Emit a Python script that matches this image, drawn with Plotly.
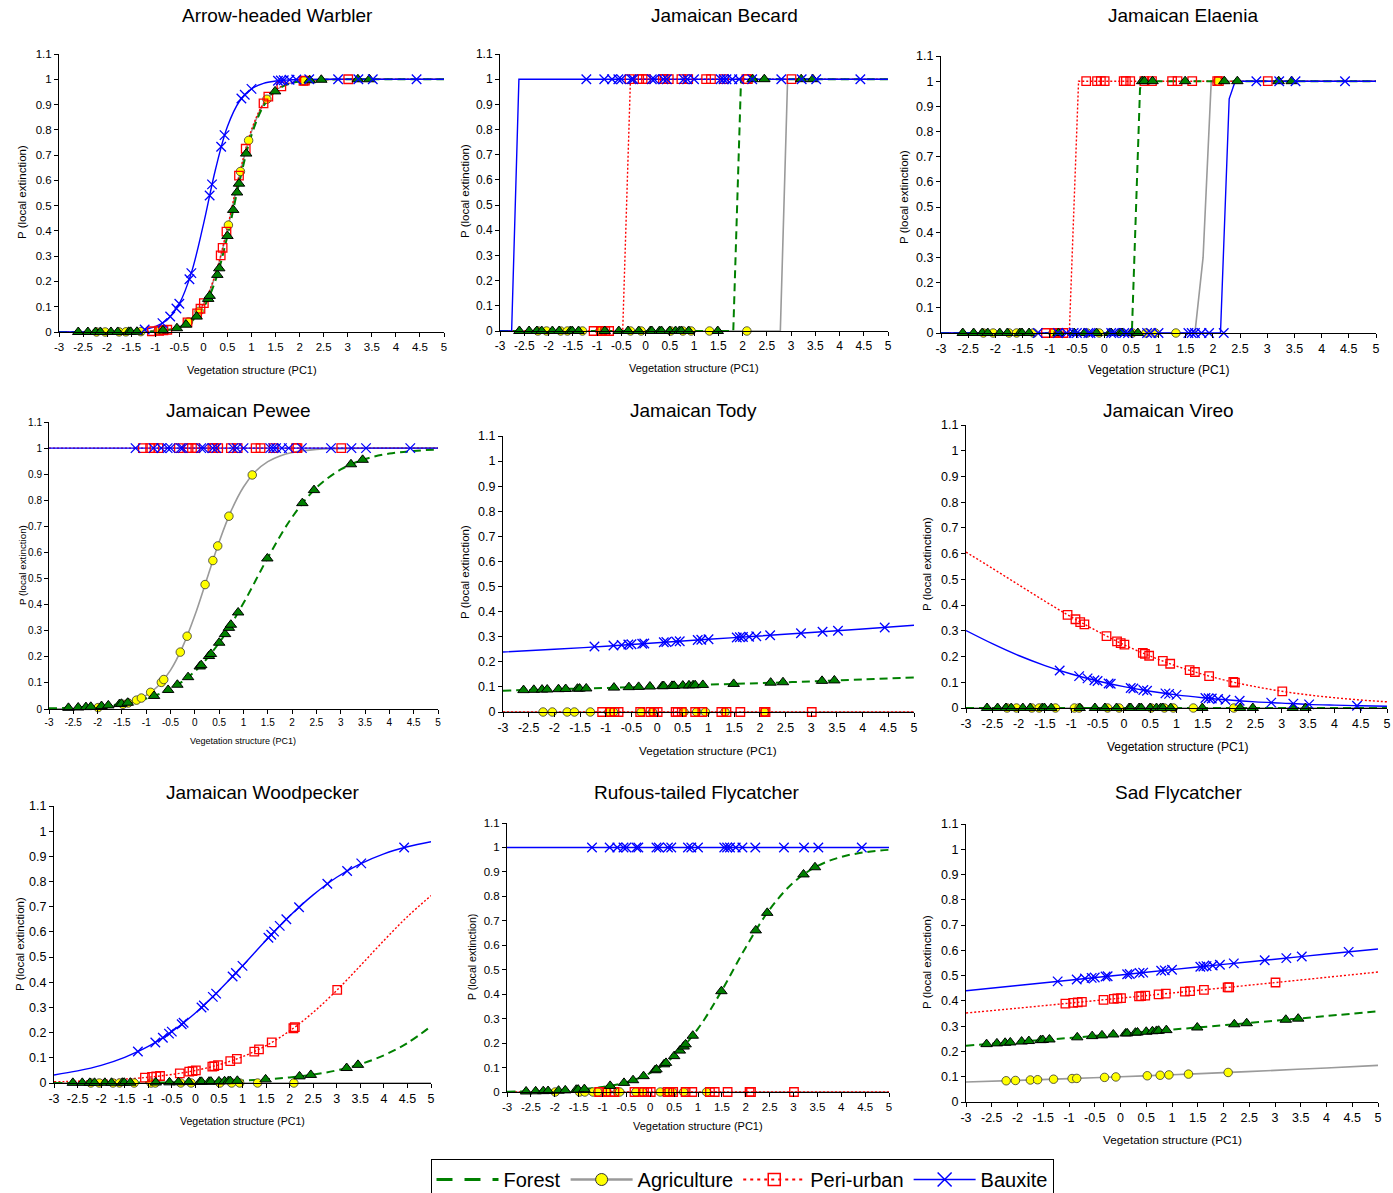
import plotly.graph_objects as go

W, H = 1393, 1193

# ---------------- axis ticks ----------------
X_TICKS = [-3, -2.5, -2, -1.5, -1, -0.5, 0, 0.5, 1, 1.5, 2, 2.5, 3, 3.5, 4, 4.5, 5]
X_TICK_LABELS = ["-3", "-2.5", "-2", "-1.5", "-1", "-0.5", "0", "0.5", "1", "1.5",
                 "2", "2.5", "3", "3.5", "4", "4.5", "5"]
Y_TICKS = [0, 0.1, 0.2, 0.3, 0.4, 0.5, 0.6, 0.7, 0.8, 0.9, 1.0, 1.1]
Y_TICK_LABELS = ["0", "0.1", "0.2", "0.3", "0.4", "0.5", "0.6", "0.7", "0.8", "0.9", "1", "1.1"]

SPECIES = ["Arrow-headed Warbler", "Jamaican Becard", "Jamaican Elaenia",
           "Jamaican Pewee", "Jamaican Tody", "Jamaican Vireo",
           "Jamaican Woodpecker", "Rufous-tailed Flycatcher", "Sad Flycatcher"]
HABITATS = ["Forest", "Agriculture", "Peri-urban", "Bauxite"]

# x positions where fitted curves were read
GRID_HALF = [-3, -2.5, -2, -1.5, -1, -0.5, 0, 0.5, 1, 1.5, 2, 2.5, 3, 3.5, 4, 4.5, 5]
GRID_FINE = [-3, -2.5, -2, -1.5, -1.25, -1, -0.75, -0.5, -0.25, 0, 0.25, 0.5, 0.75,
             1, 1.25, 1.5, 1.75, 2, 2.5, 3, 3.5, 4, 4.5, 5]
GRID_UNIT = [-3, -2, -1, 0, 1, 2, 3, 4, 5]
GRID_ENDS = [-3, 5]

# ---------------- site vegetation scores (PC1) ----------------
FOREST_X = [-2.6, -2.4, -2.24, -2.14, -1.92, -1.78, -1.55, -1.51, -1.38, -0.84, -0.55, -0.36,
            -0.14, 0.10, 0.13, 0.29, 0.33, 0.50, 0.62, 0.70, 0.74, 0.89, 1.49, 2.21, 2.45,
            3.21, 3.45]
AGRI_X = [-2.22, -2.04, -1.75, -1.61, -1.30, -0.94, -0.85, -0.31, -0.09, 0.52, 0.77, 0.94,
          1.32, 2.09]
AGRI_X_B = [-1.99, -1.48, -1.37, -1.20, -1.10, -0.91, -0.69, -0.64, -0.30, -0.16, 0.21,
            0.37, 0.47, 0.70, 1.18]
PERI_X = [-1.07, -0.92, -0.83, -0.75, -0.33, -0.13, -0.06, 0.01, 0.36, 0.40, 0.48, 0.74,
          0.88, 1.25, 1.35, 1.62, 2.08, 2.11, 3.01]
BAUX_X = [-1.22, -0.85, -0.69, -0.56, -0.50, -0.29, -0.25, 0.13, 0.18, 0.37, 0.44, 0.79,
          0.86, 1.00, 1.55, 1.61, 1.67, 1.79, 1.93, 2.20, 2.80, 3.22, 3.52, 4.43]

# ---------------- Arrow-headed Warbler ----------------
WARBLER_FOREST_Y = [0.0, 0.0, 0.0, 0.0001, 0.0001, 0.0002, 0.0005, 0.0005, 0.0009, 0.006,
                    0.015, 0.029, 0.061, 0.131, 0.143, 0.226, 0.252, 0.380, 0.483, 0.552,
                    0.587, 0.706, 0.952, 0.996, 0.998, 1.0, 1.0]
WARBLER_AGRI_Y = [0.0, 0.0001, 0.0003, 0.0005, 0.0014, 0.0047, 0.0064, 0.040, 0.082, 0.423,
                  0.635, 0.758, 0.921, 0.994]
WARBLER_PERI_Y = [0.003, 0.005, 0.007, 0.009, 0.038, 0.074, 0.092, 0.114, 0.303, 0.333,
                  0.397, 0.619, 0.725, 0.905, 0.931, 0.972, 0.994, 0.995, 1.0]
WARBLER_BAUX_Y = [0.010, 0.035, 0.061, 0.093, 0.112, 0.209, 0.233, 0.540, 0.584, 0.733,
                  0.779, 0.924, 0.939, 0.962, 0.994, 0.995, 0.996, 0.998, 0.999, 1.0, 1.0,
                  1.0, 1.0, 1.0]
WARBLER_FOREST_CURVE = [0.0, 0.0, 0.0001, 0.0006, 0.0013, 0.0032, 0.0077, 0.018, 0.042, 0.096,
                        0.203, 0.380, 0.595, 0.779, 0.894, 0.953, 0.980, 0.991, 0.9985, 1.0,
                        1.0, 1.0, 1.0, 1.0]
WARBLER_AGRI_CURVE = [0.0, 0.0, 0.0001, 0.0007, 0.0016, 0.0039, 0.0091, 0.021, 0.049, 0.109,
                      0.224, 0.406, 0.618, 0.793, 0.901, 0.956, 0.981, 0.992, 0.9985, 1.0,
                      1.0, 1.0, 1.0, 1.0]
WARBLER_PERI_CURVE = [0.0, 0.0, 0.0001, 0.0007, 0.0016, 0.0039, 0.0091, 0.0215, 0.050, 0.111,
                      0.229, 0.414, 0.627, 0.800, 0.905, 0.958, 0.982, 0.992, 0.9986, 1.0,
                      1.0, 1.0, 1.0, 1.0]
WARBLER_BAUX_CURVE = [0.0, 0.0001, 0.0006, 0.0036, 0.0088, 0.021, 0.049, 0.112, 0.234, 0.425,
                      0.642, 0.813, 0.913, 0.962, 0.984, 0.993, 0.997, 0.999, 1.0, 1.0, 1.0,
                      1.0, 1.0, 1.0]

# ---------------- Jamaican Becard ----------------
BECARD_FOREST_Y = [0, 0, 0, 0, 0, 0, 0, 0, 0, 0, 0, 0, 0, 0, 0, 0, 0, 0, 0, 0, 0, 0, 0,
                   1, 1, 1, 1]
BECARD_AGRI_Y = [0, 0, 0, 0, 0, 0, 0, 0, 0, 0, 0, 0, 0, 0]
BECARD_PERI_Y = [0, 0, 0, 0, 1, 1, 1, 1, 1, 1, 1, 1, 1, 1, 1, 1, 1, 1, 1]
BECARD_BAUX_Y = [1, 1, 1, 1, 1, 1, 1, 1, 1, 1, 1, 1, 1, 1, 1, 1, 1, 1, 1, 1, 1, 1, 1, 1]
BECARD_FOREST_CX = [-3, 1.81, 1.97, 5]
BECARD_FOREST_CY = [0, 0, 1, 1]
BECARD_AGRI_CX = [-3, 2.78, 2.93, 5]
BECARD_AGRI_CY = [0, 0, 1, 1]
BECARD_PERI_CX = [-3, -0.47, -0.31, 5]
BECARD_PERI_CY = [0, 0, 1, 1]
BECARD_BAUX_CX = [-3, -2.76, -2.61, 5]
BECARD_BAUX_CY = [0, 0, 1, 1]

# ---------------- Jamaican Elaenia ----------------
ELAENIA_FOREST_Y = [0, 0, 0, 0, 0, 0, 0, 0, 0, 0, 0, 0, 0, 0, 0, 0, 0, 0, 0,
                    1, 1, 1, 1, 1, 1, 1, 1]
ELAENIA_AGRI_Y = [0, 0, 0, 0, 0, 0, 0, 0, 0, 0, 0, 0, 0, 1]
ELAENIA_PERI_Y = [0, 0, 0, 0, 1, 1, 1, 1, 1, 1, 1, 1, 1, 1, 1, 1, 1, 1, 1]
ELAENIA_BAUX_Y = [0, 0, 0, 0, 0, 0, 0, 0, 0, 0, 0, 0, 0, 0, 0, 0, 0, 0, 0, 0, 1, 1, 1, 1]
ELAENIA_FOREST_CX = [-3, 0.51, 0.66, 0.71, 5]
ELAENIA_FOREST_CY = [0, 0, 0.97, 1, 1]
ELAENIA_AGRI_CX = [-3, 1.67, 1.82, 1.97, 5]
ELAENIA_AGRI_CY = [0, 0, 0.30, 1, 1]
ELAENIA_PERI_CX = [-3, -0.64, -0.47, 5]
ELAENIA_PERI_CY = [0, 0, 1, 1]
ELAENIA_BAUX_CX = [-3, 2.14, 2.30, 2.41, 5]
ELAENIA_BAUX_CY = [0, 0, 0.93, 1, 1]

# ---------------- Jamaican Pewee ----------------
PEWEE_FOREST_Y = [0.0044, 0.0058, 0.0073, 0.0084, 0.0113, 0.0138, 0.0189, 0.020, 0.024, 0.050,
                  0.073, 0.093, 0.122, 0.163, 0.168, 0.203, 0.211, 0.254, 0.287, 0.311, 0.323,
                  0.370, 0.577, 0.789, 0.839, 0.938, 0.955]
PEWEE_AGRI_Y = [0.0055, 0.018, 0.023, 0.034, 0.042, 0.064, 0.102, 0.113, 0.218, 0.279, 0.477,
                0.569, 0.625, 0.739, 0.897]
PEWEE_PERI_Y = [1, 1, 1, 1, 1, 1, 1, 1, 1, 1, 1, 1, 1, 1, 1, 1, 1, 1, 1]
PEWEE_BAUX_Y = [1, 1, 1, 1, 1, 1, 1, 1, 1, 1, 1, 1, 1, 1, 1, 1, 1, 1, 1, 1, 1, 1, 1, 1]
PEWEE_FOREST_CURVE = [0.0025, 0.0054, 0.010, 0.020, 0.040, 0.077, 0.144, 0.254, 0.406, 0.580,
                      0.735, 0.848, 0.918, 0.958, 0.979, 0.989, 0.995]
PEWEE_AGRI_CURVE = [0.0005, 0.0017, 0.0054, 0.017, 0.030, 0.052, 0.089, 0.149, 0.239, 0.359,
                    0.5, 0.641, 0.761, 0.851, 0.911, 0.948, 0.970, 0.983, 0.995, 0.998,
                    0.9995, 1.0, 1.0, 1.0]
PEWEE_PERI_CURVE = [1, 1]
PEWEE_BAUX_CURVE = [1, 1]

# ---------------- Jamaican Tody ----------------
TODY_FOREST_Y = [0.0872, 0.0883, 0.0892, 0.0897, 0.0910, 0.0917, 0.0930, 0.0932, 0.0939,
                 0.0972, 0.0990, 0.1001, 0.1015, 0.1029, 0.1031, 0.1041, 0.1043, 0.1054,
                 0.1062, 0.1067, 0.1069, 0.1079, 0.1119, 0.1169, 0.1186, 0.1241, 0.1259]
TODY_AGRI_Y = [0, 0, 0, 0, 0, 0, 0, 0, 0, 0, 0, 0, 0, 0]
TODY_PERI_Y = [0, 0, 0, 0, 0, 0, 0, 0, 0, 0, 0, 0, 0, 0, 0, 0, 0, 0, 0]
TODY_BAUX_Y = [0.261, 0.265, 0.267, 0.269, 0.270, 0.272, 0.273, 0.278, 0.279, 0.281, 0.282,
               0.287, 0.288, 0.290, 0.297, 0.298, 0.299, 0.300, 0.302, 0.306, 0.314, 0.320,
               0.324, 0.337]
TODY_FOREST_CURVE = [0.085, 0.091, 0.096, 0.102, 0.109, 0.115, 0.122, 0.130, 0.138]
TODY_AGRI_CURVE = [0, 0]
TODY_PERI_CURVE = [0, 0]
TODY_BAUX_CURVE = [0.239, 0.250, 0.262, 0.276, 0.290, 0.303, 0.317, 0.331, 0.346]

# ---------------- Jamaican Vireo ----------------
VIREO_FOREST_Y = [0, 0, 0, 0, 0, 0, 0, 0, 0, 0, 0, 0, 0, 0, 0, 0, 0, 0, 0, 0, 0, 0, 0,
                  0, 0, 0, 0]
VIREO_AGRI_Y = [0, 0, 0, 0, 0, 0, 0, 0, 0, 0, 0, 0, 0, 0]
VIREO_PERI_Y = [0.362, 0.345, 0.334, 0.325, 0.279, 0.259, 0.252, 0.246, 0.214, 0.210, 0.203,
                0.183, 0.172, 0.147, 0.140, 0.124, 0.101, 0.099, 0.065]
VIREO_BAUX_Y = [0.146, 0.124, 0.115, 0.108, 0.105, 0.095, 0.094, 0.078, 0.076, 0.070, 0.067,
                0.057, 0.055, 0.051, 0.039, 0.038, 0.037, 0.035, 0.032, 0.028, 0.021, 0.017,
                0.014, 0.009]
VIREO_FOREST_CURVE = [0, 0]
VIREO_AGRI_CURVE = [0, 0]
VIREO_PERI_CURVE = [0.606, 0.543, 0.479, 0.415, 0.354, 0.298, 0.246, 0.202, 0.163, 0.131,
                    0.104, 0.083, 0.065, 0.051, 0.040, 0.031, 0.024]
VIREO_BAUX_CURVE = [0.301, 0.250, 0.204, 0.165, 0.132, 0.105, 0.083, 0.065, 0.051, 0.040,
                    0.031, 0.024, 0.019, 0.014, 0.011, 0.0087, 0.0067]

# ---------------- Jamaican Woodpecker ----------------
WOODPECKER_FOREST_Y = [0.0005, 0.0005, 0.0006, 0.0007, 0.0008, 0.0009, 0.0011, 0.0011, 0.0013,
                       0.0020, 0.0026, 0.0030, 0.0037, 0.0045, 0.0046, 0.0052, 0.0054, 0.0063,
                       0.0069, 0.0074, 0.0077, 0.0087, 0.0144, 0.0263, 0.0321, 0.0595, 0.0720]
WOODPECKER_AGRI_Y = [0, 0, 0, 0, 0, 0, 0, 0, 0, 0, 0, 0, 0, 0]
WOODPECKER_PERI_Y = [0.0216, 0.0243, 0.0261, 0.0278, 0.0386, 0.0449, 0.0474, 0.0500, 0.0653,
                     0.0672, 0.0713, 0.0866, 0.0958, 0.1249, 0.1339, 0.1611, 0.2175, 0.2216,
                     0.370]
WOODPECKER_BAUX_Y = [0.125, 0.161, 0.180, 0.196, 0.204, 0.233, 0.239, 0.300, 0.308, 0.342,
                     0.355, 0.423, 0.437, 0.465, 0.577, 0.589, 0.601, 0.624, 0.650, 0.698,
                     0.791, 0.842, 0.872, 0.935]
WOODPECKER_FOREST_CURVE = [0.0003, 0.0005, 0.0008, 0.0012, 0.0018, 0.0027, 0.0041, 0.0063,
                           0.0095, 0.0145, 0.0221, 0.0334, 0.0502, 0.0749, 0.110, 0.159, 0.225]
WOODPECKER_AGRI_CURVE = [0, 0]
WOODPECKER_PERI_CURVE = [0.0047, 0.0069, 0.0103, 0.0154, 0.0228, 0.0338, 0.0497, 0.0724,
                         0.1045, 0.1485, 0.2068, 0.2805, 0.368, 0.4656, 0.5656, 0.6606, 0.744]
WOODPECKER_BAUX_CURVE = [0.032, 0.048, 0.070, 0.102, 0.145, 0.204, 0.278, 0.367, 0.465, 0.567,
                         0.663, 0.747, 0.817, 0.870, 0.910, 0.938, 0.958]

# ---------------- Rufous-tailed Flycatcher ----------------
RUFOUS_FOREST_Y = [0.0021, 0.0028, 0.0035, 0.0040, 0.0055, 0.0067, 0.0093, 0.0098, 0.0118,
                   0.0250, 0.0373, 0.0482, 0.0648, 0.0888, 0.0923, 0.1132, 0.1190, 0.1467,
                   0.1693, 0.1859, 0.1947, 0.2302, 0.4122, 0.6609, 0.7326, 0.8897, 0.9190]
RUFOUS_AGRI_Y = [0, 0, 0, 0, 0, 0, 0, 0, 0, 0, 0, 0, 0, 0, 0]
RUFOUS_PERI_Y = [0, 0, 0, 0, 0, 0, 0, 0, 0, 0, 0, 0, 0, 0, 0, 0, 0, 0, 0]
RUFOUS_BAUX_Y = [1, 1, 1, 1, 1, 1, 1, 1, 1, 1, 1, 1, 1, 1, 1, 1, 1, 1, 1, 1, 1, 1, 1, 1]
RUFOUS_FOREST_CURVE = [0.0012, 0.0024, 0.0049, 0.0099, 0.0200, 0.0399, 0.0779, 0.1467, 0.2590,
                       0.4156, 0.5912, 0.7463, 0.8568, 0.9241, 0.9612, 0.9805, 0.9903]
RUFOUS_AGRI_CURVE = [0, 0]
RUFOUS_PERI_CURVE = [0, 0]
RUFOUS_BAUX_CURVE = [1, 1]

# ---------------- Sad Flycatcher ----------------
SAD_FOREST_Y = [0.2290, 0.2319, 0.2343, 0.2358, 0.2391, 0.2412, 0.2447, 0.2454, 0.2474, 0.2559,
                0.2606, 0.2636, 0.2672, 0.2712, 0.2717, 0.2743, 0.2750, 0.2779, 0.2799, 0.2813,
                0.2819, 0.2844, 0.2948, 0.3075, 0.3117, 0.3254, 0.3298]
SAD_AGRI_Y = [0.0840, 0.0852, 0.0871, 0.0881, 0.0902, 0.0928, 0.0934, 0.0974, 0.0991, 0.1038,
              0.1058, 0.1072, 0.1103, 0.1169]
SAD_PERI_Y = [0.3896, 0.3925, 0.3943, 0.3960, 0.4044, 0.4084, 0.4098, 0.4111, 0.4182, 0.4190,
              0.4207, 0.4260, 0.4288, 0.4364, 0.4384, 0.4440, 0.4534, 0.4541, 0.4728]
SAD_BAUX_Y = [0.4773, 0.4850, 0.4884, 0.4911, 0.4923, 0.4967, 0.4975, 0.5055, 0.5065, 0.5105,
              0.5119, 0.5192, 0.5207, 0.5236, 0.5350, 0.5363, 0.5375, 0.5400, 0.5429, 0.5485,
              0.5608, 0.5694, 0.5756, 0.5940]
SAD_FOREST_CURVE = [0.2230, 0.2380, 0.2533, 0.2696, 0.2864, 0.3037, 0.3217, 0.3401, 0.3592]
SAD_AGRI_CURVE = [0.0790, 0.0854, 0.0924, 0.0998, 0.1076, 0.1162, 0.1252, 0.1348, 0.1450]
SAD_PERI_CURVE = [0.3521, 0.3712, 0.3910, 0.4110, 0.4312, 0.4518, 0.4725, 0.4933, 0.5142]
SAD_BAUX_CURVE = [0.4404, 0.4611, 0.4818, 0.5027, 0.5236, 0.5444, 0.5651, 0.5855, 0.6056]

# ---------------- assemble (curve_x, curve_y, shape, marker_x, marker_y) ----------------
DATA = [
    {"Forest": (GRID_FINE, WARBLER_FOREST_CURVE, "spline", FOREST_X, WARBLER_FOREST_Y),
     "Agriculture": (GRID_FINE, WARBLER_AGRI_CURVE, "spline", AGRI_X, WARBLER_AGRI_Y),
     "Peri-urban": (GRID_FINE, WARBLER_PERI_CURVE, "spline", PERI_X, WARBLER_PERI_Y),
     "Bauxite": (GRID_FINE, WARBLER_BAUX_CURVE, "spline", BAUX_X, WARBLER_BAUX_Y)},
    {"Forest": (BECARD_FOREST_CX, BECARD_FOREST_CY, "linear", FOREST_X, BECARD_FOREST_Y),
     "Agriculture": (BECARD_AGRI_CX, BECARD_AGRI_CY, "linear", AGRI_X, BECARD_AGRI_Y),
     "Peri-urban": (BECARD_PERI_CX, BECARD_PERI_CY, "linear", PERI_X, BECARD_PERI_Y),
     "Bauxite": (BECARD_BAUX_CX, BECARD_BAUX_CY, "linear", BAUX_X, BECARD_BAUX_Y)},
    {"Forest": (ELAENIA_FOREST_CX, ELAENIA_FOREST_CY, "linear", FOREST_X, ELAENIA_FOREST_Y),
     "Agriculture": (ELAENIA_AGRI_CX, ELAENIA_AGRI_CY, "linear", AGRI_X, ELAENIA_AGRI_Y),
     "Peri-urban": (ELAENIA_PERI_CX, ELAENIA_PERI_CY, "linear", PERI_X, ELAENIA_PERI_Y),
     "Bauxite": (ELAENIA_BAUX_CX, ELAENIA_BAUX_CY, "linear", BAUX_X, ELAENIA_BAUX_Y)},
    {"Forest": (GRID_HALF, PEWEE_FOREST_CURVE, "spline", FOREST_X, PEWEE_FOREST_Y),
     "Agriculture": (GRID_FINE, PEWEE_AGRI_CURVE, "spline", AGRI_X_B, PEWEE_AGRI_Y),
     "Peri-urban": (GRID_ENDS, PEWEE_PERI_CURVE, "linear", PERI_X, PEWEE_PERI_Y),
     "Bauxite": (GRID_ENDS, PEWEE_BAUX_CURVE, "linear", BAUX_X, PEWEE_BAUX_Y)},
    {"Forest": (GRID_UNIT, TODY_FOREST_CURVE, "spline", FOREST_X, TODY_FOREST_Y),
     "Agriculture": (GRID_ENDS, TODY_AGRI_CURVE, "linear", AGRI_X, TODY_AGRI_Y),
     "Peri-urban": (GRID_ENDS, TODY_PERI_CURVE, "linear", PERI_X, TODY_PERI_Y),
     "Bauxite": (GRID_UNIT, TODY_BAUX_CURVE, "spline", BAUX_X, TODY_BAUX_Y)},
    {"Forest": (GRID_ENDS, VIREO_FOREST_CURVE, "linear", FOREST_X, VIREO_FOREST_Y),
     "Agriculture": (GRID_ENDS, VIREO_AGRI_CURVE, "linear", AGRI_X, VIREO_AGRI_Y),
     "Peri-urban": (GRID_HALF, VIREO_PERI_CURVE, "spline", PERI_X, VIREO_PERI_Y),
     "Bauxite": (GRID_HALF, VIREO_BAUX_CURVE, "spline", BAUX_X, VIREO_BAUX_Y)},
    {"Forest": (GRID_HALF, WOODPECKER_FOREST_CURVE, "spline", FOREST_X, WOODPECKER_FOREST_Y),
     "Agriculture": (GRID_ENDS, WOODPECKER_AGRI_CURVE, "linear", AGRI_X, WOODPECKER_AGRI_Y),
     "Peri-urban": (GRID_HALF, WOODPECKER_PERI_CURVE, "spline", PERI_X, WOODPECKER_PERI_Y),
     "Bauxite": (GRID_HALF, WOODPECKER_BAUX_CURVE, "spline", BAUX_X, WOODPECKER_BAUX_Y)},
    {"Forest": (GRID_HALF, RUFOUS_FOREST_CURVE, "spline", FOREST_X, RUFOUS_FOREST_Y),
     "Agriculture": (GRID_ENDS, RUFOUS_AGRI_CURVE, "linear", AGRI_X_B, RUFOUS_AGRI_Y),
     "Peri-urban": (GRID_ENDS, RUFOUS_PERI_CURVE, "linear", PERI_X, RUFOUS_PERI_Y),
     "Bauxite": (GRID_ENDS, RUFOUS_BAUX_CURVE, "linear", BAUX_X, RUFOUS_BAUX_Y)},
    {"Forest": (GRID_UNIT, SAD_FOREST_CURVE, "spline", FOREST_X, SAD_FOREST_Y),
     "Agriculture": (GRID_UNIT, SAD_AGRI_CURVE, "spline", AGRI_X, SAD_AGRI_Y),
     "Peri-urban": (GRID_UNIT, SAD_PERI_CURVE, "spline", PERI_X, SAD_PERI_Y),
     "Bauxite": (GRID_UNIT, SAD_BAUX_CURVE, "spline", BAUX_X, SAD_BAUX_Y)},
]

# ---------------- layout (pixel geometry of each panel) ----------------
# plot box: left, right, top, bottom (pixels); fonts; title / axis-title centres
LAYOUT = [
    dict(box=(59, 444, 54, 332), tick=11.5, title=(277, 16), xt=(252, 370, 11), yt=(22, 192, 11.5)),
    dict(box=(500, 888, 54, 331), tick=12, title=(724, 16), xt=(694, 368, 11), yt=(465, 191, 11.5)),
    dict(box=(941, 1376, 56, 333), tick=12.5, title=(1183, 16), xt=(1158, 370, 12), yt=(904, 197, 11.5)),
    dict(box=(49, 438, 422, 709), tick=10, title=(238, 410), xt=(243, 741, 9), yt=(22, 565, 9.8)),
    dict(box=(503, 914, 436, 712), tick=12.5, title=(693, 410), xt=(708, 750, 11.7), yt=(465, 572, 11.5)),
    dict(box=(966, 1387, 425, 708), tick=12.5, title=(1168, 410), xt=(1177, 747, 12), yt=(927, 564, 11.5)),
    dict(box=(54, 431, 806, 1083), tick=12.5, title=(263, 792), xt=(242, 1121, 10.6), yt=(20, 944, 11.5)),
    dict(box=(507, 889, 823, 1092), tick=11.5, title=(697, 792), xt=(698, 1126, 11), yt=(472, 957, 10.6)),
    dict(box=(966, 1378, 824, 1102), tick=12.5, title=(1178, 792), xt=(1172, 1140, 11.8), yt=(927, 962, 11.5)),
]

FONT = "Liberation Sans, Arial, sans-serif"
GREEN, GREY, RED, BLUE, YELLOW = "#008000", "#9a9a9a", "#ff0000", "#0000ff", "#ffff00"

LINE_STYLE = {
    "Forest": dict(color=GREEN, width=2, dash="8px,5px"),
    "Agriculture": dict(color=GREY, width=1.6),
    "Peri-urban": dict(color=RED, width=1.4, dash="2px,2px"),
    "Bauxite": dict(color=BLUE, width=1.4),
}
MARKER_STYLE = {
    "Forest": dict(symbol="triangle-up", size=10, color=GREEN, line=dict(color="black", width=1)),
    "Agriculture": dict(symbol="circle", size=8.5, color=YELLOW, line=dict(color="#333333", width=0.8)),
    "Peri-urban": dict(symbol="square-open", size=8.5, color=RED, line=dict(color=RED, width=1.3)),
    "Bauxite": dict(symbol="x-thin-open", size=9.5, color=BLUE, line=dict(color=BLUE, width=1.3)),
}
DRAW_ORDER = ["Agriculture", "Peri-urban", "Forest", "Bauxite"]


def px_x(v):
    return v / W


def px_y(v):
    return 1 - v / H


fig = go.Figure()
annotations = []

for i, (panel, geo) in enumerate(zip(DATA, LAYOUT)):
    n = "" if i == 0 else str(i + 1)
    xa, ya = "x" + n, "y" + n
    l, r, t, b = geo["box"]
    for hab in DRAW_ORDER:
        cx, cy, shape, mx, my = panel[hab]
        fig.add_trace(go.Scatter(x=cx, y=cy, mode="lines", line=dict(shape=shape, **LINE_STYLE[hab]),
                                 xaxis=xa, yaxis=ya, showlegend=False, cliponaxis=False,
                                 hoverinfo="skip"))
    for hab in DRAW_ORDER:
        cx, cy, shape, mx, my = panel[hab]
        fig.add_trace(go.Scatter(x=mx, y=my, mode="markers", marker=MARKER_STYLE[hab],
                                 xaxis=xa, yaxis=ya, showlegend=False, cliponaxis=False,
                                 name=hab))
    axis_common = dict(showline=True, linecolor="black", linewidth=1, ticks="outside",
                       tickcolor="black", ticklen=4, tickwidth=1, showgrid=False, zeroline=False,
                       automargin=False,
                       tickfont=dict(family=FONT, size=geo["tick"], color="black"))
    fig.layout["xaxis" + n] = dict(domain=[px_x(l), px_x(r)], anchor=ya, range=[-3, 5],
                                   tickvals=X_TICKS, ticktext=X_TICK_LABELS, **axis_common)
    fig.layout["yaxis" + n] = dict(domain=[px_y(b), px_y(t)], anchor=xa, range=[0, 1.1],
                                   tickvals=Y_TICKS, ticktext=Y_TICK_LABELS, **axis_common)
    tx, ty = geo["title"]
    annotations.append(dict(text=SPECIES[i], x=px_x(tx), y=px_y(ty), xref="paper", yref="paper",
                            xanchor="center", yanchor="middle", showarrow=False,
                            font=dict(family=FONT, size=19, color="black")))
    ax_, ay_, fs = geo["xt"]
    annotations.append(dict(text="Vegetation structure (PC1)", x=px_x(ax_), y=px_y(ay_),
                            xref="paper", yref="paper", xanchor="center", yanchor="middle",
                            showarrow=False, font=dict(family=FONT, size=fs, color="black")))
    bx_, by_, fs2 = geo["yt"]
    annotations.append(dict(text="P (local extinction)", x=px_x(bx_), y=px_y(by_),
                            xref="paper", yref="paper", xanchor="center", yanchor="middle",
                            textangle=-90, showarrow=False,
                            font=dict(family=FONT, size=fs2, color="black")))

# legend entries
LEGEND_LINES = {
    "Forest": dict(color=GREEN, width=3, dash="16px,12px"),
    "Agriculture": dict(color=GREY, width=2.5),
    "Peri-urban": dict(color=RED, width=2, dash="3px,4px"),
    "Bauxite": dict(color=BLUE, width=1.5),
}
LEGEND_MARKERS = {
    "Agriculture": dict(symbol="circle", size=12, color=YELLOW, line=dict(color="#333333", width=1)),
    "Peri-urban": dict(symbol="square-open", size=12, color=RED, line=dict(color=RED, width=1.5)),
    "Bauxite": dict(symbol="x-thin-open", size=14, color=BLUE, line=dict(color=BLUE, width=1.5)),
}
for k, hab in enumerate(HABITATS):
    if hab == "Forest":
        tr = go.Scatter(x=[None], y=[None], mode="lines", line=LEGEND_LINES[hab], name=hab,
                        legendrank=k + 1)
    else:
        tr = go.Scatter(x=[None], y=[None], mode="lines+markers", line=LEGEND_LINES[hab],
                        marker=LEGEND_MARKERS[hab], name=hab, legendrank=k + 1)
    fig.add_trace(tr)

fig.update_layout(
    template="none",
    width=W, height=H,
    margin=dict(l=0, r=0, t=0, b=0, pad=0, autoexpand=False),
    paper_bgcolor="white", plot_bgcolor="white",
    font=dict(family=FONT, color="black"),
    annotations=annotations,
    showlegend=True,
    legend=dict(orientation="h", x=px_x(742), xanchor="center", y=px_y(1159), yanchor="top",
                bordercolor="black", borderwidth=1, bgcolor="white",
                font=dict(family=FONT, size=20, color="black"),
                itemwidth=62, traceorder="normal", tracegroupgap=0),
)

fig.write_html("out.html", config={"displayModeBar": False})

# remove the default page margin so the figure sits at the window's top-left corner
with open("out.html", "r", encoding="utf-8") as fh:
    page = fh.read()
page = page.replace("<head>", "<head><style>html,body{margin:0;padding:0;overflow:hidden;}</style>", 1)
with open("out.html", "w", encoding="utf-8") as fh:
    fh.write(page)
